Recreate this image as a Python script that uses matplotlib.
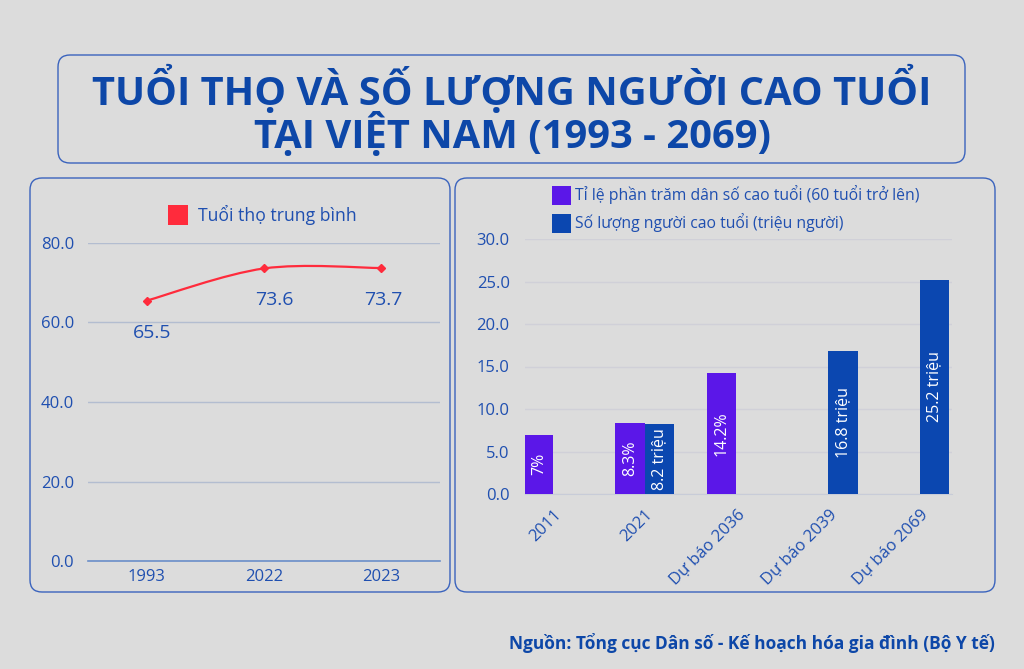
import numpy as np
import matplotlib
matplotlib.use("Agg")
import matplotlib.pyplot as plt
from matplotlib.patches import FancyBboxPatch, Rectangle
from matplotlib.path import Path
from matplotlib.patches import PathPatch

plt.rcParams['font.family'] = ['Open Sans', 'DejaVu Sans']

# data
years_life = ['1993', '2022', '2023']
life_exp = [65.5, 73.6, 73.7]

bar_cats = ['2011', '2021', 'Dự báo 2036', 'Dự báo 2039', 'Dự báo 2069']
pct_elderly = [7.0, 8.3, 14.2, np.nan, np.nan]
pct_labels = ['7%', '8.3%', '14.2%', '', '']
num_elderly = [np.nan, 8.2, np.nan, 16.8, 25.2]
num_labels = ['', '8.2 triệu', '', '16.8 triệu', '25.2 triệu']

title = 'TUỔI THỌ VÀ SỐ LƯỢNG NGƯỜI CAO TUỔI\nTẠI VIỆT NAM (1993 - 2069)'
source = 'Nguồn: Tổng cục Dân số - Kế hoạch hóa gia đình (Bộ Y tế)'

BG = '#dcdcdc'
TXT = '#1f4fb0'
DARK = '#0d47a8'
PURPLE = '#5b17e8'
BLUE = '#0b47b0'
RED = '#ff2b3c'

W, H = 1024, 669
fig = plt.figure(figsize=(W / 100, H / 100), dpi=100, facecolor=BG)

# background layer in pixel coords
bg = fig.add_axes([0, 0, 1, 1])
bg.set_xlim(0, W)
bg.set_ylim(H, 0)
bg.axis('off')
for (x0, y0, x1, y1) in [(58, 55, 965, 163), (30, 178, 450, 592), (455, 178, 995, 592)]:
    bg.add_patch(FancyBboxPatch((x0, y0), x1 - x0, y1 - y0,
                                boxstyle='round,pad=0,rounding_size=12',
                                facecolor='none', edgecolor='#3a63bd', lw=1.0))
bg.text(512, 111, title, ha='center', va='center', fontsize=28.7, fontweight='bold',
        color=DARK, linespacing=0.95)
bg.text(995, 643, source, ha='right', va='center', fontsize=12.5, fontweight='bold',
        color=DARK)


def px_axes(x0, y0, x1, y1):
    return fig.add_axes([x0 / W, 1 - y1 / H, (x1 - x0) / W, (y1 - y0) / H])


# ---- left: life expectancy line
ax1 = px_axes(88, 243, 440, 561)
ax1.set_facecolor('none')
x = np.arange(len(life_exp))
y = np.array(life_exp)
# smooth curve (catmull-rom as bezier)
pts = np.column_stack([x, y])
ext = np.vstack([pts[0], pts, pts[-1]])
verts = [tuple(pts[0])]
codes = [Path.MOVETO]
for i in range(len(pts) - 1):
    p0, p1, p2, p3 = ext[i], ext[i + 1], ext[i + 2], ext[i + 3]
    c1 = p1 + (p2 - p0) / 6
    c2 = p2 - (p3 - p1) / 6
    verts += [tuple(c1), tuple(c2), tuple(p2)]
    codes += [Path.CURVE4] * 3
ax1.add_patch(PathPatch(Path(verts, codes), facecolor='none', edgecolor=RED, lw=1.6, zorder=3))
ax1.plot(x, y, ls='none', marker='D', ms=4.5, color=RED, zorder=4)
offs = [(5, -32), (10, -32), (2, -32)]
for xi, yi, o in zip(x, y, offs):
    ax1.annotate(f'{yi:.1f}', (xi, yi), xytext=o, textcoords='offset pixels',
                 ha='center', va='center', fontsize=14, color=TXT)
ax1.set_xlim(-0.5, 2.5)
ax1.set_ylim(0, 80)
ax1.set_yticks([0, 20, 40, 60, 80])
ax1.set_yticklabels([f'{v:.1f}' for v in [0, 20, 40, 60, 80]])
ax1.set_xticks(x)
ax1.set_xticklabels(years_life)
ax1.tick_params(length=0, labelsize=12, labelcolor=TXT, pad=10)
ax1.tick_params(axis='x', pad=6)
ax1.grid(axis='y', color='#b3bdd0', lw=1)
for s in ['top', 'right', 'left']:
    ax1.spines[s].set_visible(False)
ax1.spines['bottom'].set_color('#6b8fc9')
ax1.spines['bottom'].set_linewidth(1.2)
ax1.set_axisbelow(True)
# legend
bg.add_patch(Rectangle((168, 205), 20, 20, facecolor=RED, edgecolor='none'))
bg.text(198, 215, 'Tuổi thọ trung bình', ha='left', va='center', fontsize=12.7, color=TXT)

# ---- right: grouped bars
ax2 = px_axes(525, 239, 952, 494)
ax2.set_facecolor('none')
xb = np.arange(len(bar_cats))
bw = 0.32
b1 = ax2.bar(xb - bw / 2, pct_elderly, width=bw, color=PURPLE, zorder=3)
b2 = ax2.bar(xb + bw / 2, num_elderly, width=bw, color=BLUE, zorder=3)
ax2.bar_label(b1, labels=pct_labels, label_type='center', rotation=90, color='white', fontsize=11.5)
ax2.bar_label(b2, labels=num_labels, label_type='center', rotation=90, color='white', fontsize=11.5)
ax2.set_xlim(-0.305, 4.35)
ax2.set_ylim(0, 30)
ax2.set_yticks(np.arange(0, 31, 5))
ax2.set_yticklabels([f'{v:.1f}' for v in np.arange(0, 31, 5)])
ax2.set_xticks(xb)
ax2.set_xticklabels(bar_cats, rotation=45, ha='right', rotation_mode='anchor')
ax2.tick_params(length=0, labelsize=12, labelcolor=TXT)
ax2.tick_params(axis='y', pad=11)
ax2.tick_params(axis='x', pad=9)
ax2.grid(axis='y', color='#d0d0d8', lw=1)
for s in ['top', 'right', 'left']:
    ax2.spines[s].set_visible(False)
ax2.spines['bottom'].set_color('#c8ccd8')
ax2.set_axisbelow(True)
# legend
bg.add_patch(Rectangle((552, 186), 19, 19, facecolor=PURPLE, edgecolor='none'))
bg.text(575, 195, 'Tỉ lệ phần trăm dân số cao tuổi (60 tuổi trở lên)', ha='left', va='center',
        fontsize=11.3, color=TXT)
bg.add_patch(Rectangle((552, 214), 19, 19, facecolor=BLUE, edgecolor='none'))
bg.text(575, 223, 'Số lượng người cao tuổi (triệu người)', ha='left', va='center',
        fontsize=11.3, color=TXT)

fig.savefig('out.png', dpi=100, facecolor=BG)
